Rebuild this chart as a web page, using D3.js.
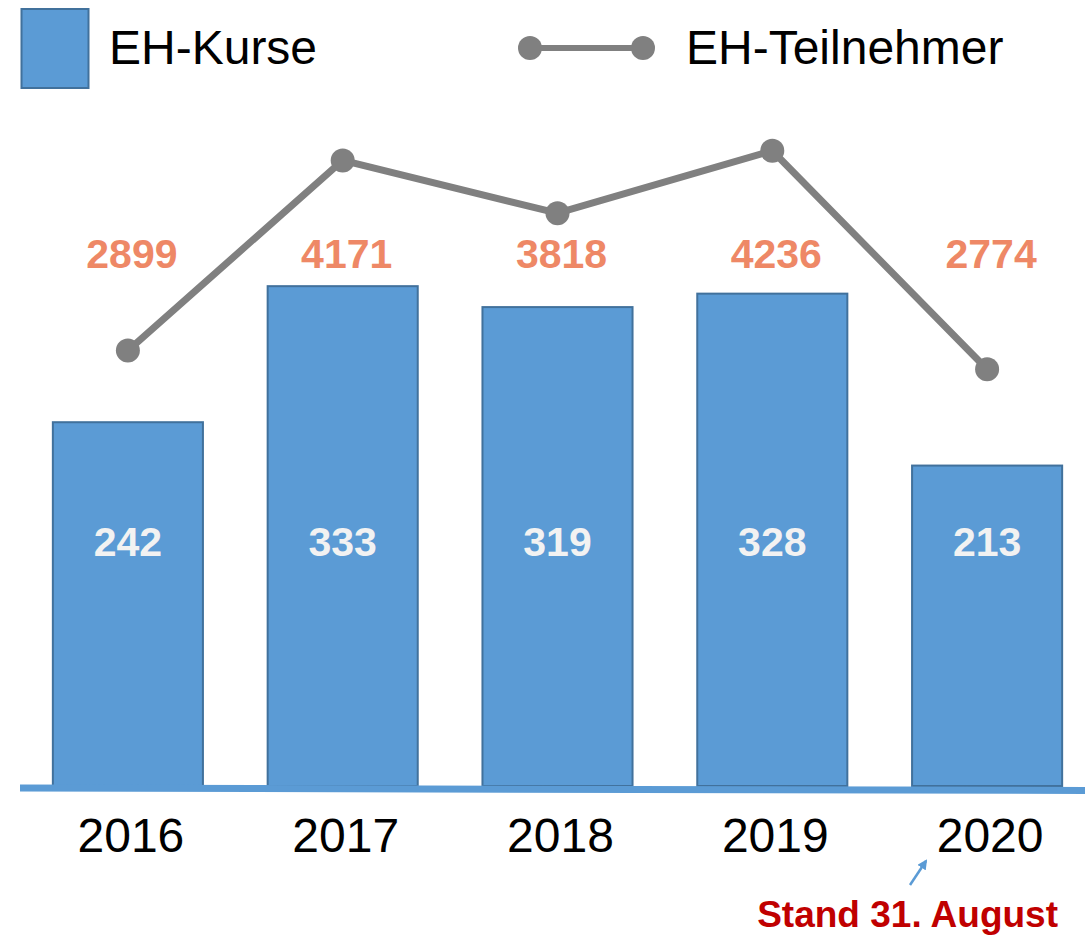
<!DOCTYPE html>
<html><head><meta charset="utf-8">
<script src="https://cdn.jsdelivr.net/npm/d3@7"></script>
<style>body{margin:0;background:#fff}svg{display:block;font-family:Arial,"Liberation Sans",sans-serif}</style>
</head><body><svg id="c" width="1089" height="935"></svg>
<script>
const years = ["2016","2017","2018","2019","2020"];
const kurse = [242,333,319,328,213];
const teilnehmer = [2899,4171,3818,4236,2774];
const legendLabels = ["EH-Kurse","EH-Teilnehmer"];
const footnote = "Stand 31. August";

const svg = d3.select("#c");
const x = d3.scaleBand().domain(years).range([25,1090]).paddingInner(0.292).paddingOuter(0.125);
const yBar = d3.scaleLinear().domain([0,400]).range([784,186]);
const yLine = d3.scaleLinear().domain([0,4000]).range([784,186]);
const cx = d => x(d)+x.bandwidth()/2;

// bars
svg.selectAll("rect.bar").data(years).join("rect").attr("class","bar")
  .attr("x",d=>x(d)+1).attr("width",x.bandwidth()-2)
  .attr("y",(d,i)=>yBar(kurse[i])).attr("height",(d,i)=>yBar(0)-yBar(kurse[i])+2)
  .attr("fill","#5B9BD5").attr("stroke","#41719C").attr("stroke-width",2);

// baseline
svg.append("line").attr("x1",20).attr("x2",1085).attr("y1",788).attr("y2",790.5)
  .attr("stroke","#5B9BD5").attr("stroke-width",7);

// bar labels
svg.selectAll("text.bl").data(years).join("text").attr("class","bl")
  .attr("x",d=>cx(d)).attr("y",556)
  .attr("text-anchor","middle").attr("font-size",41).attr("font-weight","bold")
  .attr("fill","#F2F2F2").text((d,i)=>kurse[i]);

// line
const line = d3.line().x((d,i)=>cx(years[i])).y(d=>yLine(d));
svg.append("path").datum(teilnehmer).attr("d",line).attr("fill","none")
  .attr("stroke","#808080").attr("stroke-width",7);
svg.selectAll("circle.pt").data(teilnehmer).join("circle").attr("class","pt")
  .attr("cx",(d,i)=>cx(years[i])).attr("cy",d=>yLine(d)).attr("r",12)
  .attr("fill","#808080");

// line value labels
svg.selectAll("text.ll").data(teilnehmer).join("text").attr("class","ll")
  .attr("x",(d,i)=>cx(years[i])+4).attr("y",268)
  .attr("text-anchor","middle").attr("font-size",41).attr("font-weight","bold")
  .attr("fill","#EE8866").text(d=>d);

// x labels
svg.selectAll("text.xl").data(years).join("text").attr("class","xl")
  .attr("x",d=>cx(d)+3).attr("y",852)
  .attr("text-anchor","middle").attr("font-size",48).attr("fill","#000").text(d=>d);

// legend
svg.append("rect").attr("x",21.5).attr("y",9).attr("width",67).attr("height",79)
  .attr("fill","#5B9BD5").attr("stroke","#41719C").attr("stroke-width",2);
svg.append("text").attr("x",109).attr("y",64).attr("font-size",48).text(legendLabels[0]);
svg.append("line").attr("x1",530).attr("x2",643).attr("y1",48).attr("y2",48)
  .attr("stroke","#808080").attr("stroke-width",6);
[530,643].forEach(c=>svg.append("circle").attr("cx",c).attr("cy",48).attr("r",12).attr("fill","#808080"));
svg.append("text").attr("x",686).attr("y",64).attr("font-size",48).text(legendLabels[1]);

// footnote + arrow
svg.append("defs").append("marker").attr("id","ah").attr("viewBox","0 0 10 10")
  .attr("refX",8).attr("refY",5).attr("markerWidth",4).attr("markerHeight",4).attr("orient","auto")
  .append("path").attr("d","M0,0L10,5L0,10z").attr("fill","#5B9BD5");
svg.append("line").attr("x1",910).attr("y1",885).attr("x2",926).attr("y2",861)
  .attr("stroke","#5B9BD5").attr("stroke-width",2.5).attr("marker-end","url(#ah)");
svg.append("text").attr("x",1058).attr("y",927).attr("text-anchor","end")
  .attr("font-size",37).attr("font-weight","bold").attr("fill","#C00000").text(footnote);
</script></body></html>
